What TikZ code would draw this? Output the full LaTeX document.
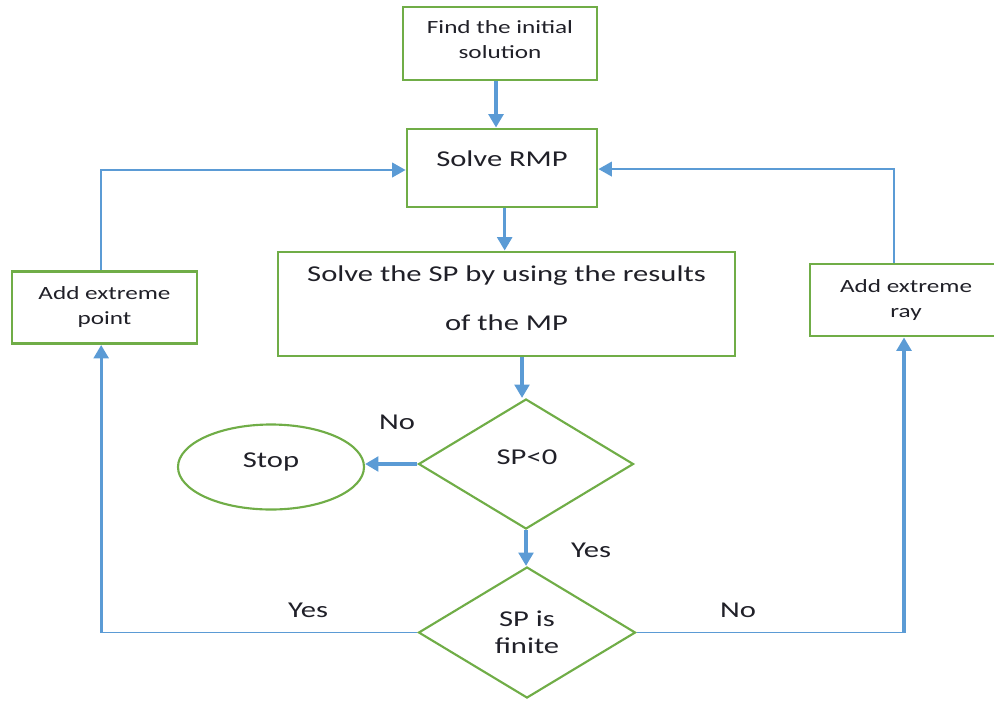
\documentclass[tikz,border=0pt]{standalone}
\usepackage{fontspec}
\setmainfont{Carlito}[FakeStretch=1.35]
\usetikzlibrary{shapes.geometric,arrows.meta}
\definecolor{bgreen}{RGB}{112,173,71}
\definecolor{bblue}{RGB}{91,155,213}
\definecolor{txt}{RGB}{32,32,40}
\begin{document}
\begin{tikzpicture}[x=0.75pt,y=-0.75pt,
  every node/.style={text=txt},
  box/.style={draw=bgreen,line width=2.2pt,rectangle,inner sep=0pt,align=center},
  dia/.style={draw=bgreen,line width=1.6pt,diamond,inner sep=0pt,align=center},
  oval/.style={draw=bgreen,line width=1.6pt,ellipse,inner sep=0pt},
  arr/.style={draw=bblue,line width=2.4pt,-{Triangle[length=10pt,width=11pt]}},
  thinarr/.style={draw=bblue,line width=1.1pt,-{Triangle[length=10pt,width=11pt]}},
  thinline/.style={draw=bblue,line width=1.1pt},
  fs/.style={font={\fontsize{14pt}{18.75pt}\selectfont},align=center},
  fm/.style={font={\fontsize{17pt}{20pt}\selectfont},align=center},
  fl/.style={font={\fontsize{17pt}{36.75pt}\selectfont},align=center},
]
\useasboundingbox (0,0) rectangle (994,700);
% boxes
\node[box,minimum width=145.5pt,minimum height=54.75pt] (find) at (500,43.5) {};
\node[fs] (findtxt) at (500,39.5) {Find the initial\\solution};
\node[box,minimum width=142.5pt,minimum height=58.5pt] (rmp) at (502,168) {};
\node[fm] (rmptxt) at (502,159) {Solve RMP};
\node[box,minimum width=342.75pt,minimum height=78pt] (sp) at (506.5,304) {};
\node[fl] (sptxt) at (506.5,298) {Solve the SP by using the results\\of the MP};
\node[box,fs,minimum width=138.75pt,minimum height=54pt] (aep) at (104.5,307.5) {Add extreme\\point};
\node[box,fs,minimum width=144pt,minimum height=54pt] (aer) at (906,300) {Add extreme\\ray};
\node[dia,minimum width=161.25pt,minimum height=97.5pt] (d1) at (526,464) {};
\node[fm] (d1txt) at (527,457) {SP<0};
\node[dia,fm,minimum width=162.75pt,minimum height=98.25pt] (d2) at (527,632.5) {SP is\\finite};
\node[oval,minimum width=139.5pt,minimum height=63.75pt] (stop) at (271,467) {};
\node[fm] (stoptxt) at (271,462) {Stop};
% labels
\node[fm] (lno1) at (397,422) {No};
\node[fm] (lyes1) at (591,550) {Yes};
\node[fm] (lyes2) at (308,610) {Yes};
\node[fm] (lno2) at (738,610) {No};
% connectors
\draw[arr] ([xshift=-3pt]find.south) -- ([xshift=-3pt]find.south |- rmp.north);
\draw[arr] ([xshift=2pt]rmp.south) -- ([xshift=2pt]rmp.south |- sp.north);
\draw[arr] ([xshift=-3pt]d1.north |- sp.south) -- ([xshift=-3pt]d1.north);
\draw[arr] (d1.west) -- (d1.west -| stop.east);
\draw[arr] (d1.south) -- (d1.south |- d2.north);
\coordinate (cl) at ([xshift=-2.5pt]aep.south |- d2.west);
\coordinate (cr) at ([xshift=-1.5pt]aer.south |- d2.east);
\draw[thinline] (d2.west) -- (cl);
\draw[arr] (cl) -- ([xshift=-2.5pt]aep.south);
\draw[thinline] (d2.east) -- (cr);
\draw[arr] (cr) -- ([xshift=-1.5pt]aer.south);
\draw[thinarr] ([xshift=-2.5pt]aep.north) |- ([yshift=-1.5pt]rmp.west);
\draw[thinarr] ([xshift=-9pt]aer.north) |- ([yshift=-0.8pt]rmp.east);
\end{tikzpicture}
\end{document}
